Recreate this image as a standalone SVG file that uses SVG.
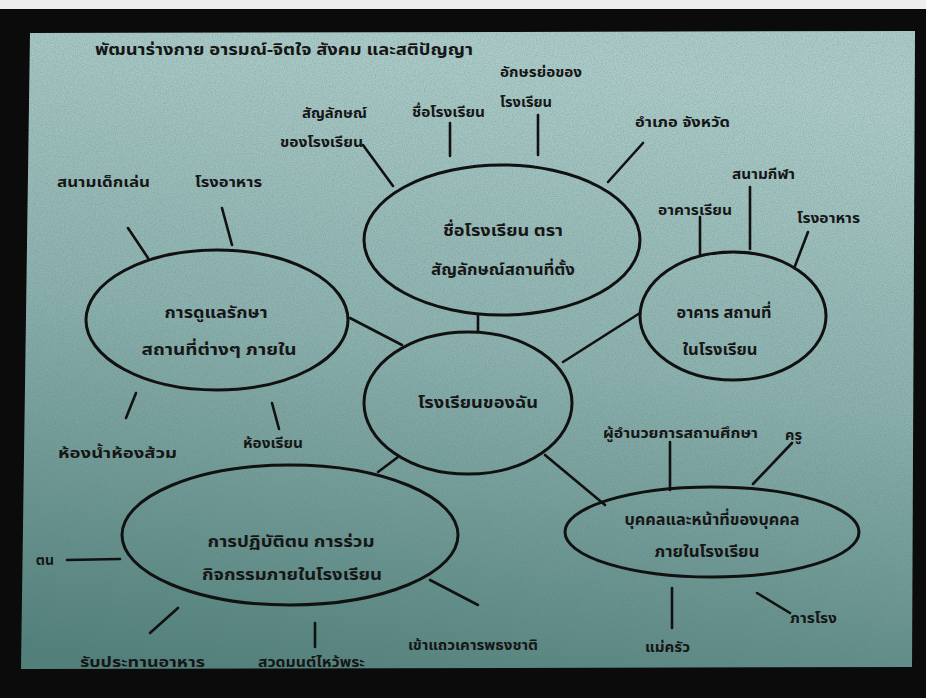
<svg xmlns="http://www.w3.org/2000/svg" width="926" height="698" viewBox="0 0 926 698">
<defs>
<linearGradient id="bg" x1="0.35" y1="0" x2="0.15" y2="1">
<stop offset="0" stop-color="#aecdca"/>
<stop offset="0.45" stop-color="#8db2af"/>
<stop offset="1" stop-color="#52807b"/>
</linearGradient>
<filter id="grain" x="0" y="0" width="100%" height="100%">
<feTurbulence type="fractalNoise" baseFrequency="0.9" numOctaves="2" seed="4"/>
<feColorMatrix type="matrix" values="0 0 0 0 0.1  0 0 0 0 0.2  0 0 0 0 0.2  0 0 0 -1.6 1.05"/>
</filter>
<clipPath id="slide"><polygon points="30,33 915,31 912,667 21,669"/></clipPath>
<style>
.t{font-family:"Noto Sans Thai","Noto Sans","DejaVu Sans",sans-serif;font-weight:bold;fill:#161616;font-size:14px}
.e{font-size:16px}
.ell{fill:none;stroke:#111;stroke-width:3}
.c line{stroke:#111;stroke-width:2.6;stroke-linecap:round}
</style>
</defs>
<rect x="0" y="0" width="926" height="698" fill="#0b0b0b"/>
<rect x="0" y="0" width="926" height="9" fill="#eeeeee"/>
<polygon points="30,33 915,31 912,667 21,669" fill="url(#bg)"/>
<rect x="20" y="30" width="896" height="640" filter="url(#grain)" clip-path="url(#slide)" opacity="0.35"/>

<text class="t" x="95" y="55" textLength="378" lengthAdjust="spacingAndGlyphs" style="font-size:16px">พัฒนาร่างกาย อารมณ์-จิตใจ สังคม และสติปัญญา</text>

<g class="c" id="connectors">
<line x1="350" y1="318" x2="402" y2="345"/>
<line x1="563" y1="362" x2="640" y2="313"/>
<line x1="478" y1="315" x2="478" y2="332"/>
<line x1="545" y1="455" x2="605" y2="505"/>
<line x1="398" y1="457" x2="378" y2="472"/>
<line x1="363" y1="145" x2="393" y2="186"/>
<line x1="450" y1="123" x2="450" y2="156"/>
<line x1="538" y1="115" x2="538" y2="155"/>
<line x1="643" y1="143" x2="608" y2="182"/>
<line x1="128" y1="228" x2="148" y2="258"/>
<line x1="222" y1="208" x2="232" y2="245"/>
<line x1="700" y1="217" x2="700" y2="254"/>
<line x1="750" y1="187" x2="750" y2="249"/>
<line x1="808" y1="232" x2="795" y2="266"/>
<line x1="136" y1="393" x2="126" y2="418"/>
<line x1="272" y1="403" x2="279" y2="429"/>
<line x1="670" y1="442" x2="670" y2="490"/>
<line x1="792" y1="443" x2="753" y2="484"/>
<line x1="672" y1="588" x2="672" y2="628"/>
<line x1="757" y1="593" x2="790" y2="613"/>
<line x1="67" y1="560" x2="120" y2="559"/>
<line x1="178" y1="608" x2="150" y2="633"/>
<line x1="315" y1="623" x2="315" y2="647"/>
<line x1="430" y1="580" x2="478" y2="605"/>
</g>

<g id="center">
<ellipse class="ell" cx="468" cy="403" rx="104" ry="71"/>
<text class="t e" x="478" y="408" text-anchor="middle" textLength="120" lengthAdjust="spacingAndGlyphs">โรงเรียนของฉัน</text>
</g>

<g id="top">
<ellipse class="ell" cx="502" cy="240" rx="138" ry="75"/>
<text class="t e" x="503" y="236" text-anchor="middle" textLength="120" lengthAdjust="spacingAndGlyphs">ชื่อโรงเรียน ตรา</text>
<text class="t e" x="503" y="275" text-anchor="middle" textLength="144" lengthAdjust="spacingAndGlyphs">สัญลักษณ์สถานที่ตั้ง</text>
</g>
<g id="top-symbol"><text class="t" x="302" y="118" textLength="65" lengthAdjust="spacingAndGlyphs">สัญลักษณ์</text><text class="t" x="280" y="147" textLength="83" lengthAdjust="spacingAndGlyphs">ของโรงเรียน</text></g>
<g id="top-name"><text class="t" x="412" y="117" textLength="73" lengthAdjust="spacingAndGlyphs">ชื่อโรงเรียน</text></g>
<g id="top-abbr"><text class="t" x="500" y="77" textLength="82" lengthAdjust="spacingAndGlyphs">อักษรย่อของ</text><text class="t" x="500" y="107" textLength="52" lengthAdjust="spacingAndGlyphs">โรงเรียน</text></g>
<g id="top-place"><text class="t" x="635" y="127" textLength="95" lengthAdjust="spacingAndGlyphs">อำเภอ จังหวัด</text></g>

<g id="left">
<ellipse class="ell" cx="217" cy="320" rx="131" ry="70"/>
<text class="t e" x="216" y="318" text-anchor="middle" textLength="103" lengthAdjust="spacingAndGlyphs">การดูแลรักษา</text>
<text class="t e" x="219" y="355" text-anchor="middle" textLength="155" lengthAdjust="spacingAndGlyphs">สถานที่ต่างๆ ภายใน</text>
</g>
<g id="left-play"><text class="t" x="57" y="187" textLength="93" lengthAdjust="spacingAndGlyphs">สนามเด็กเล่น</text></g>
<g id="left-canteen"><text class="t" x="195" y="187" textLength="67" lengthAdjust="spacingAndGlyphs">โรงอาหาร</text></g>
<g id="left-toilet"><text class="t" x="58" y="458" textLength="119" lengthAdjust="spacingAndGlyphs">ห้องน้ำห้องส้วม</text></g>
<g id="left-room"><text class="t" x="243" y="448" textLength="60" lengthAdjust="spacingAndGlyphs">ห้องเรียน</text></g>

<g id="right">
<ellipse class="ell" cx="733" cy="316" rx="93" ry="64"/>
<text class="t e" x="724" y="318" text-anchor="middle" textLength="95" lengthAdjust="spacingAndGlyphs">อาคาร สถานที่</text>
<text class="t e" x="720" y="355" text-anchor="middle" textLength="75" lengthAdjust="spacingAndGlyphs">ในโรงเรียน</text>
</g>
<g id="right-building"><text class="t" x="658" y="215" textLength="74" lengthAdjust="spacingAndGlyphs">อาคารเรียน</text></g>
<g id="right-field"><text class="t" x="732" y="179" textLength="63" lengthAdjust="spacingAndGlyphs">สนามกีฬา</text></g>
<g id="right-canteen"><text class="t" x="797" y="223" textLength="63" lengthAdjust="spacingAndGlyphs">โรงอาหาร</text></g>

<g id="people">
<ellipse class="ell" cx="712" cy="532" rx="147" ry="45"/>
<text class="t e" x="712" y="525" text-anchor="middle" textLength="175" lengthAdjust="spacingAndGlyphs">บุคคลและหน้าที่ของบุคคล</text>
<text class="t e" x="707" y="557" text-anchor="middle" textLength="105" lengthAdjust="spacingAndGlyphs">ภายในโรงเรียน</text>
</g>
<g id="people-director"><text class="t" x="603" y="438" textLength="155" lengthAdjust="spacingAndGlyphs">ผู้อำนวยการสถานศึกษา</text></g>
<g id="people-teacher"><text class="t" x="785" y="440" textLength="17" lengthAdjust="spacingAndGlyphs">ครู</text></g>
<g id="people-cook"><text class="t" x="645" y="652" textLength="45" lengthAdjust="spacingAndGlyphs">แม่ครัว</text></g>
<g id="people-janitor"><text class="t" x="790" y="623" textLength="47" lengthAdjust="spacingAndGlyphs">ภารโรง</text></g>

<g id="activity">
<ellipse class="ell" cx="290" cy="535" rx="168" ry="70"/>
<text class="t e" x="291" y="547" text-anchor="middle" textLength="167" lengthAdjust="spacingAndGlyphs">การปฏิบัติตน การร่วม</text>
<text class="t e" x="292" y="580" text-anchor="middle" textLength="180" lengthAdjust="spacingAndGlyphs">กิจกรรมภายในโรงเรียน</text>
</g>
<g id="activity-left"><text class="t" x="54" y="565" text-anchor="end">ตน</text></g>
<g id="activity-eat"><text class="t" x="80" y="667" textLength="125" lengthAdjust="spacingAndGlyphs">รับประทานอาหาร</text></g>
<g id="activity-pray"><text class="t" x="258" y="667" textLength="107" lengthAdjust="spacingAndGlyphs">สวดมนต์ไหว้พระ</text></g>
<g id="activity-flag"><text class="t" x="408" y="650" textLength="130" lengthAdjust="spacingAndGlyphs">เข้าแถวเคารพธงชาติ</text></g>
</svg>
